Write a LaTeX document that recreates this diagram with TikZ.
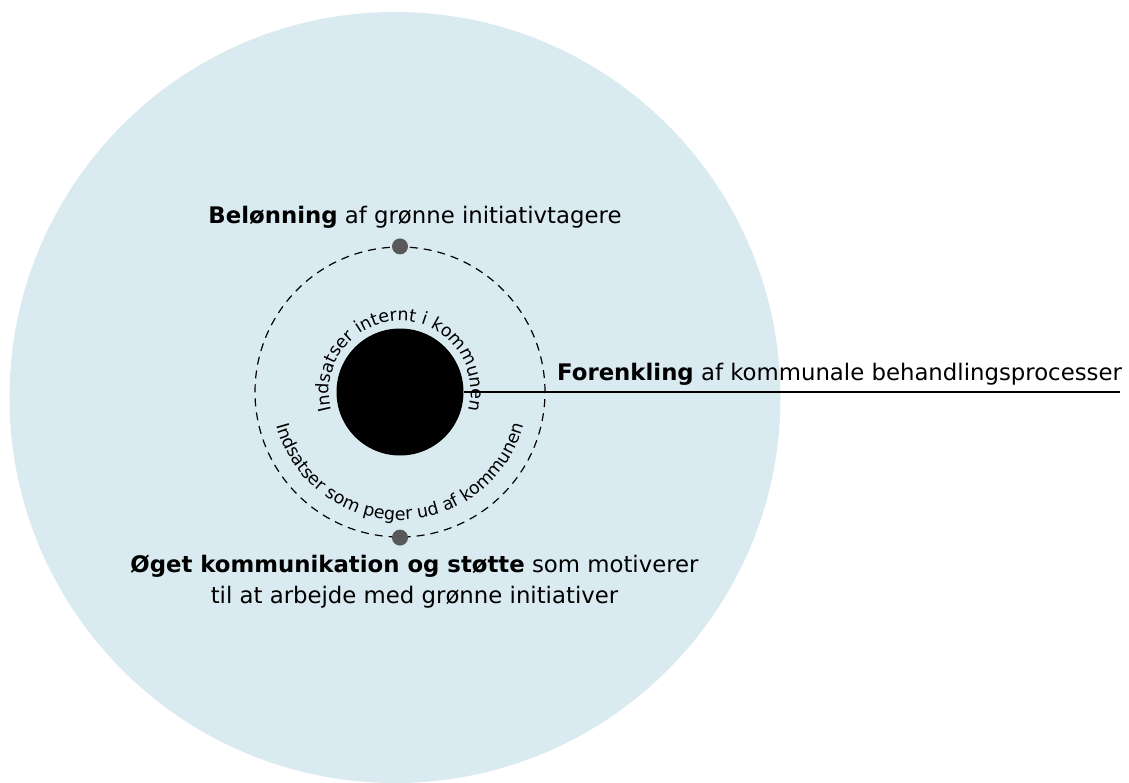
\documentclass[tikz,border=0pt]{standalone}
\usepackage{fontspec}
\setmainfont{DejaVu Sans}
\usetikzlibrary{decorations.text}
\definecolor{fieldblue}{RGB}{218,234,241}
\definecolor{dotgrey}{RGB}{89,89,89}
\newcommand{\lblfont}{\fontsize{22.8}{31}\selectfont}
\newcommand{\arcfont}{\fontsize{17.5}{20}\selectfont}
\tikzset{
	field/.style={circle, fill=fieldblue, inner sep=0pt, minimum size=771pt},
	core/.style={circle, fill=black, inner sep=0pt, minimum size=127pt},
	ring/.style={circle, draw, dash pattern=on 8pt off 6pt, line width=1.2pt, inner sep=0pt, minimum size=290pt},
	spot/.style={circle, fill=dotgrey, inner sep=0pt, minimum size=16pt},
	lbl/.style={font=\lblfont, inner sep=0pt},
	arctext/.style={decorate, decoration={text along path, text align=center, text={#1}}}
}

\begin{document}
\begin{tikzpicture}[x=1pt, y=1pt]
			\useasboundingbox (-400,-390) rectangle (729,392);

			% Background field and the two circles
			\node[field] (field) at (-5,-5.5) {};
			\node[ring] (ring) at (0,0) {};
			\node[core] (core) at (0,0) {};
			\node[spot] (topspot) at (ring.north) {};
			\node[spot] (bottomspot) at (ring.south) {};

			% Text along the circles
			\path[arctext={|\arcfont|Indsatser internt i kommunen}] (200:71) arc[start angle=200, end angle=-20, radius=71];
			\path[arctext={|\arcfont|Indsatser som peger ud af kommunen}] (190:128) arc[start angle=190, end angle=350, radius=128];

			% Line to the right
			\coordinate (lineend) at (720,0);
			\draw[line width=1.2pt] (core.east) -- (lineend);

			% Labels
			\node[lbl, anchor=base] (reward) at (15,168) {\textbf{Belønning} af grønne initiativtagere};
			\node[lbl, anchor=base west] (simplify) at (157,12) {\textbf{Forenkling} af kommunale behandlingsprocesser};
			\node[lbl, anchor=base, align=center] (support) at (14.5,-211) {\textbf{Øget kommunikation og støtte} som motiverer\\til at arbejde med grønne initiativer};
		\end{tikzpicture}
\end{document}
